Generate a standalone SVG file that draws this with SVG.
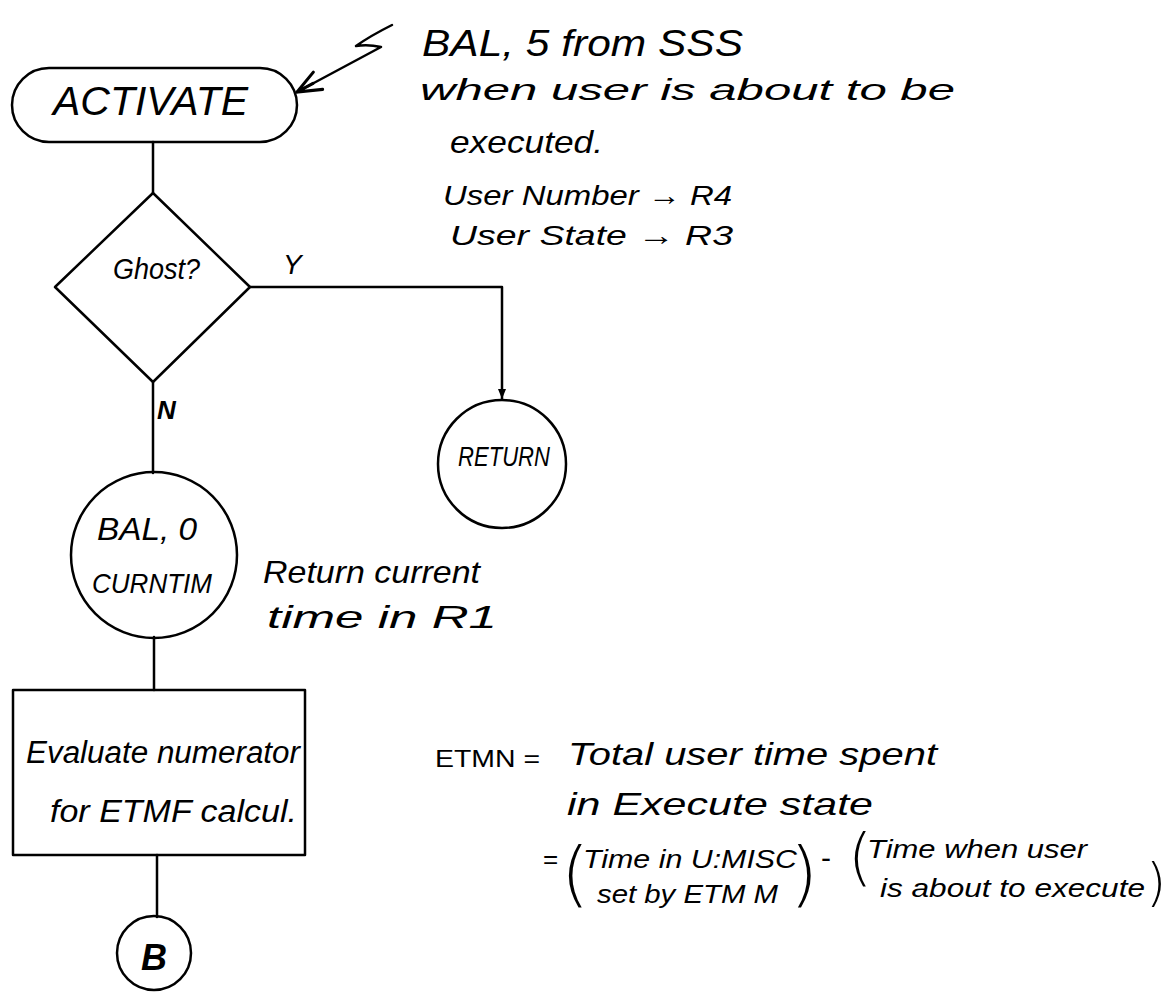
<svg xmlns="http://www.w3.org/2000/svg" width="1175" height="1004" viewBox="0 0 1175 1004">
<style>
.s{fill:none;stroke:#000;stroke-width:2.5;stroke-linejoin:round;stroke-linecap:round}
.t{font-family:"Liberation Sans","DejaVu Sans",sans-serif;fill:#000;font-style:italic}
.u{font-family:"Liberation Sans","DejaVu Sans",sans-serif;fill:#000}
.p{font-family:"DejaVu Sans","Liberation Sans",sans-serif;fill:#000;font-weight:300}
</style>
<defs>
<marker id="fa" viewBox="0 0 10 10" refX="10" refY="5" markerWidth="10" markerHeight="10" markerUnits="userSpaceOnUse" orient="auto">
<path d="M0,1 L10,5 L0,9 Z" fill="#000"/>
</marker>
<marker id="oa" viewBox="0 0 20 20" refX="19" refY="10" markerWidth="28" markerHeight="28" markerUnits="userSpaceOnUse" orient="auto">
<path d="M2,3 L19,10 L2,17 M19,10 L6,10" fill="none" stroke="#000" stroke-width="2.2" stroke-linecap="round"/>
</marker>
</defs>
<rect x="0" y="0" width="1175" height="1004" fill="#fff"/>

<g id="connectors">
<line class="s" x1="153" y1="142" x2="153" y2="193"/>
<polyline class="s" points="250,287 502,287 502,399" marker-end="url(#fa)"/>
<line class="s" x1="153" y1="382" x2="153" y2="473"/>
<line class="s" x1="154" y1="637" x2="154" y2="690"/>
<line class="s" x1="157" y1="855" x2="157" y2="917"/>
<path class="s" d="M392,25 Q370,36 356,46 Q368,44 381,47 L297,92" marker-end="url(#oa)"/>
</g>

<g id="activate">
<rect class="s" x="12" y="68" width="285" height="74" rx="37" ry="37"/>
<text class="t" x="53" y="115" font-size="40" textLength="195" lengthAdjust="spacingAndGlyphs">ACTIVATE</text>
</g>

<g id="ghost">
<polygon class="s" points="153,193 250,287 153,382 55,287"/>
<text class="t" x="113" y="279" font-size="30" textLength="87" lengthAdjust="spacingAndGlyphs">Ghost?</text>
<text class="t" x="283" y="274" font-size="28">Y</text>
<text class="t" x="157" y="419" font-size="26" font-weight="bold">N</text>
</g>

<g id="return">
<circle class="s" cx="502" cy="464" r="64"/>
<text class="t" x="458" y="466" font-size="27" textLength="92" lengthAdjust="spacingAndGlyphs">RETURN</text>
</g>

<g id="curntim">
<circle class="s" cx="154" cy="555" r="83"/>
<text class="t" x="97" y="540" font-size="32" textLength="100" lengthAdjust="spacingAndGlyphs">BAL, 0</text>
<text class="t" x="92" y="593" font-size="28" textLength="120" lengthAdjust="spacingAndGlyphs">CURNTIM</text>
</g>

<g id="evaluate">
<rect class="s" x="13" y="690" width="292" height="165"/>
<text class="t" x="26" y="763" font-size="31" textLength="274" lengthAdjust="spacingAndGlyphs">Evaluate numerator</text>
<text class="t" x="50" y="822" font-size="31" textLength="247" lengthAdjust="spacingAndGlyphs">for ETMF calcul.</text>
</g>

<g id="connector-b">
<circle class="s" cx="154" cy="953" r="37"/>
<text class="t" x="154" y="970" font-size="36" font-weight="bold" text-anchor="middle">B</text>
</g>

<g id="note-activate">
<text class="t" x="422" y="56" font-size="36" textLength="321" lengthAdjust="spacingAndGlyphs">BAL, 5 from SSS</text>
<text class="t" x="420" y="100" font-size="30" textLength="535" lengthAdjust="spacingAndGlyphs">when   user   is   about  to  be</text>
<text class="t" x="450" y="153" font-size="32" textLength="153" lengthAdjust="spacingAndGlyphs">executed.</text>
<text class="t" x="443" y="205" font-size="28" textLength="289" lengthAdjust="spacingAndGlyphs">User Number → R4</text>
<text class="t" x="450" y="245" font-size="28" textLength="283" lengthAdjust="spacingAndGlyphs">User State   → R3</text>
</g>

<g id="note-curntim">
<text class="t" x="263" y="583" font-size="32" textLength="217" lengthAdjust="spacingAndGlyphs">Return  current</text>
<text class="t" x="267" y="628" font-size="32" textLength="230" lengthAdjust="spacingAndGlyphs">time    in   R1</text>
</g>

<g id="note-etmn">
<text class="u" x="435" y="767" font-size="24" textLength="105" lengthAdjust="spacingAndGlyphs">ETMN =</text>
<text class="t" x="568" y="765" font-size="32" textLength="369" lengthAdjust="spacingAndGlyphs">Total user time  spent</text>
<text class="t" x="567" y="815" font-size="32" textLength="306" lengthAdjust="spacingAndGlyphs">in  Execute state</text>
<text class="u" x="543" y="868" font-size="26">=</text>
<text class="p" x="561" y="898" font-size="72">(</text>
<text class="t" x="583" y="868" font-size="26" textLength="214" lengthAdjust="spacingAndGlyphs">Time in  U:MISC</text>
<text class="t" x="597" y="903" font-size="26" textLength="181" lengthAdjust="spacingAndGlyphs">set by ETM M</text>
<text class="p" x="790" y="898" font-size="72">)</text>
<text class="u" x="821" y="868" font-size="30">-</text>
<text class="p" x="848" y="878" font-size="62">(</text>
<text class="t" x="867" y="858" font-size="26" textLength="220" lengthAdjust="spacingAndGlyphs">Time  when user</text>
<text class="t" x="880" y="897" font-size="26" textLength="265" lengthAdjust="spacingAndGlyphs">is about to execute</text>
<text class="p" x="1146" y="900" font-size="52">)</text>
</g>
</svg>
